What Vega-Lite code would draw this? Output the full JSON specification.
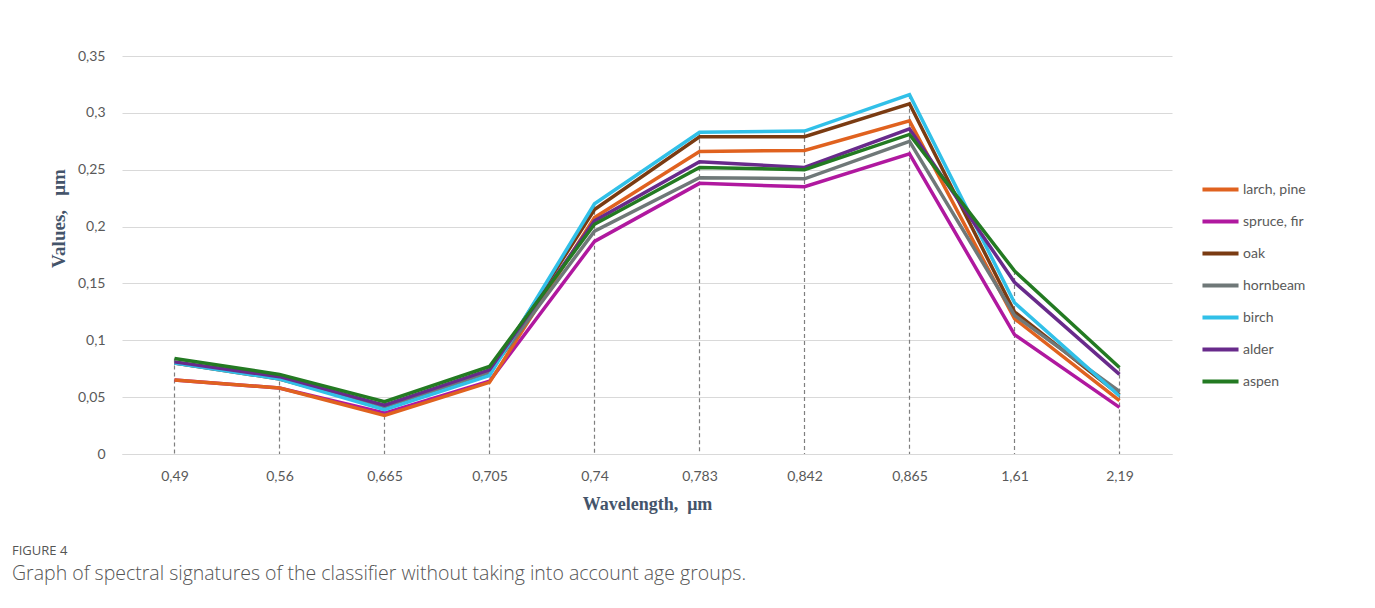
{
  "$schema": "https://vega.github.io/schema/vega-lite/v6.json",
  "width": 1050,
  "height": 398,
  "autosize": {"type": "none"},
  "padding": {"left": 122, "top": 56, "right": 203, "bottom": 154},
  "background": "white",
  "title": {
    "text": "FIGURE 4",
    "subtitle": "Graph of spectral signatures of the classifier without taking into account age groups.",
    "orient": "bottom",
    "anchor": "start",
    "frame": "group",
    "dx": -110,
    "offset": 32,
    "font": "Open Sans",
    "fontSize": 13,
    "fontWeight": "normal",
    "color": "#555555",
    "subtitleFont": "Open Sans",
    "subtitleFontSize": 19.5,
    "subtitleFontWeight": 300,
    "subtitleColor": "#555555",
    "subtitlePadding": 7
  },
  "config": {
    "view": {"stroke": null},
    "axis": {"labelFont": "Lato", "labelFontSize": 14, "labelColor": "#595959", "ticks": false}
  },
  "data": {
    "values": [
      {"wl": "0,49", "species": "spruce, fir", "value": 0.065},
      {"wl": "0,56", "species": "spruce, fir", "value": 0.058},
      {"wl": "0,665", "species": "spruce, fir", "value": 0.036},
      {"wl": "0,705", "species": "spruce, fir", "value": 0.064},
      {"wl": "0,74", "species": "spruce, fir", "value": 0.187},
      {"wl": "0,783", "species": "spruce, fir", "value": 0.238},
      {"wl": "0,842", "species": "spruce, fir", "value": 0.235},
      {"wl": "0,865", "species": "spruce, fir", "value": 0.264},
      {"wl": "1,61", "species": "spruce, fir", "value": 0.105},
      {"wl": "2,19", "species": "spruce, fir", "value": 0.041},
      {"wl": "0,49", "species": "larch, pine", "value": 0.065},
      {"wl": "0,56", "species": "larch, pine", "value": 0.058},
      {"wl": "0,665", "species": "larch, pine", "value": 0.034},
      {"wl": "0,705", "species": "larch, pine", "value": 0.063},
      {"wl": "0,74", "species": "larch, pine", "value": 0.208},
      {"wl": "0,783", "species": "larch, pine", "value": 0.266},
      {"wl": "0,842", "species": "larch, pine", "value": 0.267},
      {"wl": "0,865", "species": "larch, pine", "value": 0.293},
      {"wl": "1,61", "species": "larch, pine", "value": 0.119},
      {"wl": "2,19", "species": "larch, pine", "value": 0.047},
      {"wl": "0,49", "species": "oak", "value": 0.080},
      {"wl": "0,56", "species": "oak", "value": 0.066},
      {"wl": "0,665", "species": "oak", "value": 0.041},
      {"wl": "0,705", "species": "oak", "value": 0.071},
      {"wl": "0,74", "species": "oak", "value": 0.215},
      {"wl": "0,783", "species": "oak", "value": 0.279},
      {"wl": "0,842", "species": "oak", "value": 0.279},
      {"wl": "0,865", "species": "oak", "value": 0.308},
      {"wl": "1,61", "species": "oak", "value": 0.125},
      {"wl": "2,19", "species": "oak", "value": 0.052},
      {"wl": "0,49", "species": "hornbeam", "value": 0.080},
      {"wl": "0,56", "species": "hornbeam", "value": 0.067},
      {"wl": "0,665", "species": "hornbeam", "value": 0.042},
      {"wl": "0,705", "species": "hornbeam", "value": 0.072},
      {"wl": "0,74", "species": "hornbeam", "value": 0.196},
      {"wl": "0,783", "species": "hornbeam", "value": 0.243},
      {"wl": "0,842", "species": "hornbeam", "value": 0.242},
      {"wl": "0,865", "species": "hornbeam", "value": 0.275},
      {"wl": "1,61", "species": "hornbeam", "value": 0.122},
      {"wl": "2,19", "species": "hornbeam", "value": 0.055},
      {"wl": "0,49", "species": "birch", "value": 0.080},
      {"wl": "0,56", "species": "birch", "value": 0.066},
      {"wl": "0,665", "species": "birch", "value": 0.039},
      {"wl": "0,705", "species": "birch", "value": 0.069},
      {"wl": "0,74", "species": "birch", "value": 0.220},
      {"wl": "0,783", "species": "birch", "value": 0.283},
      {"wl": "0,842", "species": "birch", "value": 0.284},
      {"wl": "0,865", "species": "birch", "value": 0.316},
      {"wl": "1,61", "species": "birch", "value": 0.133},
      {"wl": "2,19", "species": "birch", "value": 0.051},
      {"wl": "0,49", "species": "alder", "value": 0.081},
      {"wl": "0,56", "species": "alder", "value": 0.068},
      {"wl": "0,665", "species": "alder", "value": 0.043},
      {"wl": "0,705", "species": "alder", "value": 0.074},
      {"wl": "0,74", "species": "alder", "value": 0.205},
      {"wl": "0,783", "species": "alder", "value": 0.257},
      {"wl": "0,842", "species": "alder", "value": 0.252},
      {"wl": "0,865", "species": "alder", "value": 0.286},
      {"wl": "1,61", "species": "alder", "value": 0.151},
      {"wl": "2,19", "species": "alder", "value": 0.070},
      {"wl": "0,49", "species": "aspen", "value": 0.084},
      {"wl": "0,56", "species": "aspen", "value": 0.070},
      {"wl": "0,665", "species": "aspen", "value": 0.046},
      {"wl": "0,705", "species": "aspen", "value": 0.077},
      {"wl": "0,74", "species": "aspen", "value": 0.202},
      {"wl": "0,783", "species": "aspen", "value": 0.252},
      {"wl": "0,842", "species": "aspen", "value": 0.250},
      {"wl": "0,865", "species": "aspen", "value": 0.281},
      {"wl": "1,61", "species": "aspen", "value": 0.161},
      {"wl": "2,19", "species": "aspen", "value": 0.076}
    ]
  },
  "encoding": {
    "x": {
      "field": "wl",
      "type": "ordinal",
      "sort": ["0,49", "0,56", "0,665", "0,705", "0,74", "0,783", "0,842", "0,865", "1,61", "2,19"],
      "scale": {"type": "point", "padding": 0.5},
      "axis": {
        "title": "Wavelength,\u00a0\u00a0μm",
        "titleFont": "Liberation Serif",
        "titleFontSize": 18,
        "titleFontWeight": "bold",
        "titleColor": "#44546a",
        "titlePadding": 12,
        "labelAngle": 0,
        "labelPadding": 15,
        "domain": true,
        "domainColor": "#d9d9d9",
        "grid": false
      }
    }
  },
  "layer": [
    {
      "mark": {"type": "rule", "color": "#7f7f7f", "strokeDash": [4, 3], "strokeWidth": 1.2},
      "encoding": {
        "y": {"aggregate": "max", "field": "value", "type": "quantitative"},
        "y2": {"datum": 0}
      }
    },
    {
      "mark": {"type": "line", "strokeWidth": 3.5},
      "encoding": {
        "y": {
          "field": "value",
          "type": "quantitative",
          "scale": {"domain": [0, 0.35]},
          "axis": {
            "title": "Values,\u00a0\u00a0\u00a0μm",
            "titleFont": "Liberation Serif",
            "titleFontSize": 19,
            "titleFontWeight": "bold",
            "titleColor": "#44546a",
            "titleX": -54,
            "titleY": 162,
            "values": [0, 0.05, 0.1, 0.15, 0.2, 0.25, 0.3, 0.35],
            "labelExpr": "replace(format(datum.value, '.2~f'), '.', ',')",
            "labelPadding": 17,
            "domain": false,
            "grid": true,
            "gridColor": "#d9d9d9"
          }
        },
        "color": {
          "field": "species",
          "type": "nominal",
          "scale": {
            "domain": ["larch, pine", "spruce, fir", "oak", "hornbeam", "birch", "alder", "aspen"],
            "range": ["#e0621f", "#b0189f", "#7a3b12", "#6f7878", "#31c0e8", "#682a8b", "#237a22"]
          },
          "legend": {
            "title": null,
            "orient": "none",
            "legendX": 1078,
            "legendY": 113,
            "symbolType": "stroke",
            "symbolSize": 1300,
            "symbolStrokeWidth": 4,
            "labelFont": "Lato",
            "labelFontSize": 14,
            "labelColor": "#595959",
            "labelOffset": 2,
            "rowPadding": 3
          }
        }
      }
    }
  ]
}
